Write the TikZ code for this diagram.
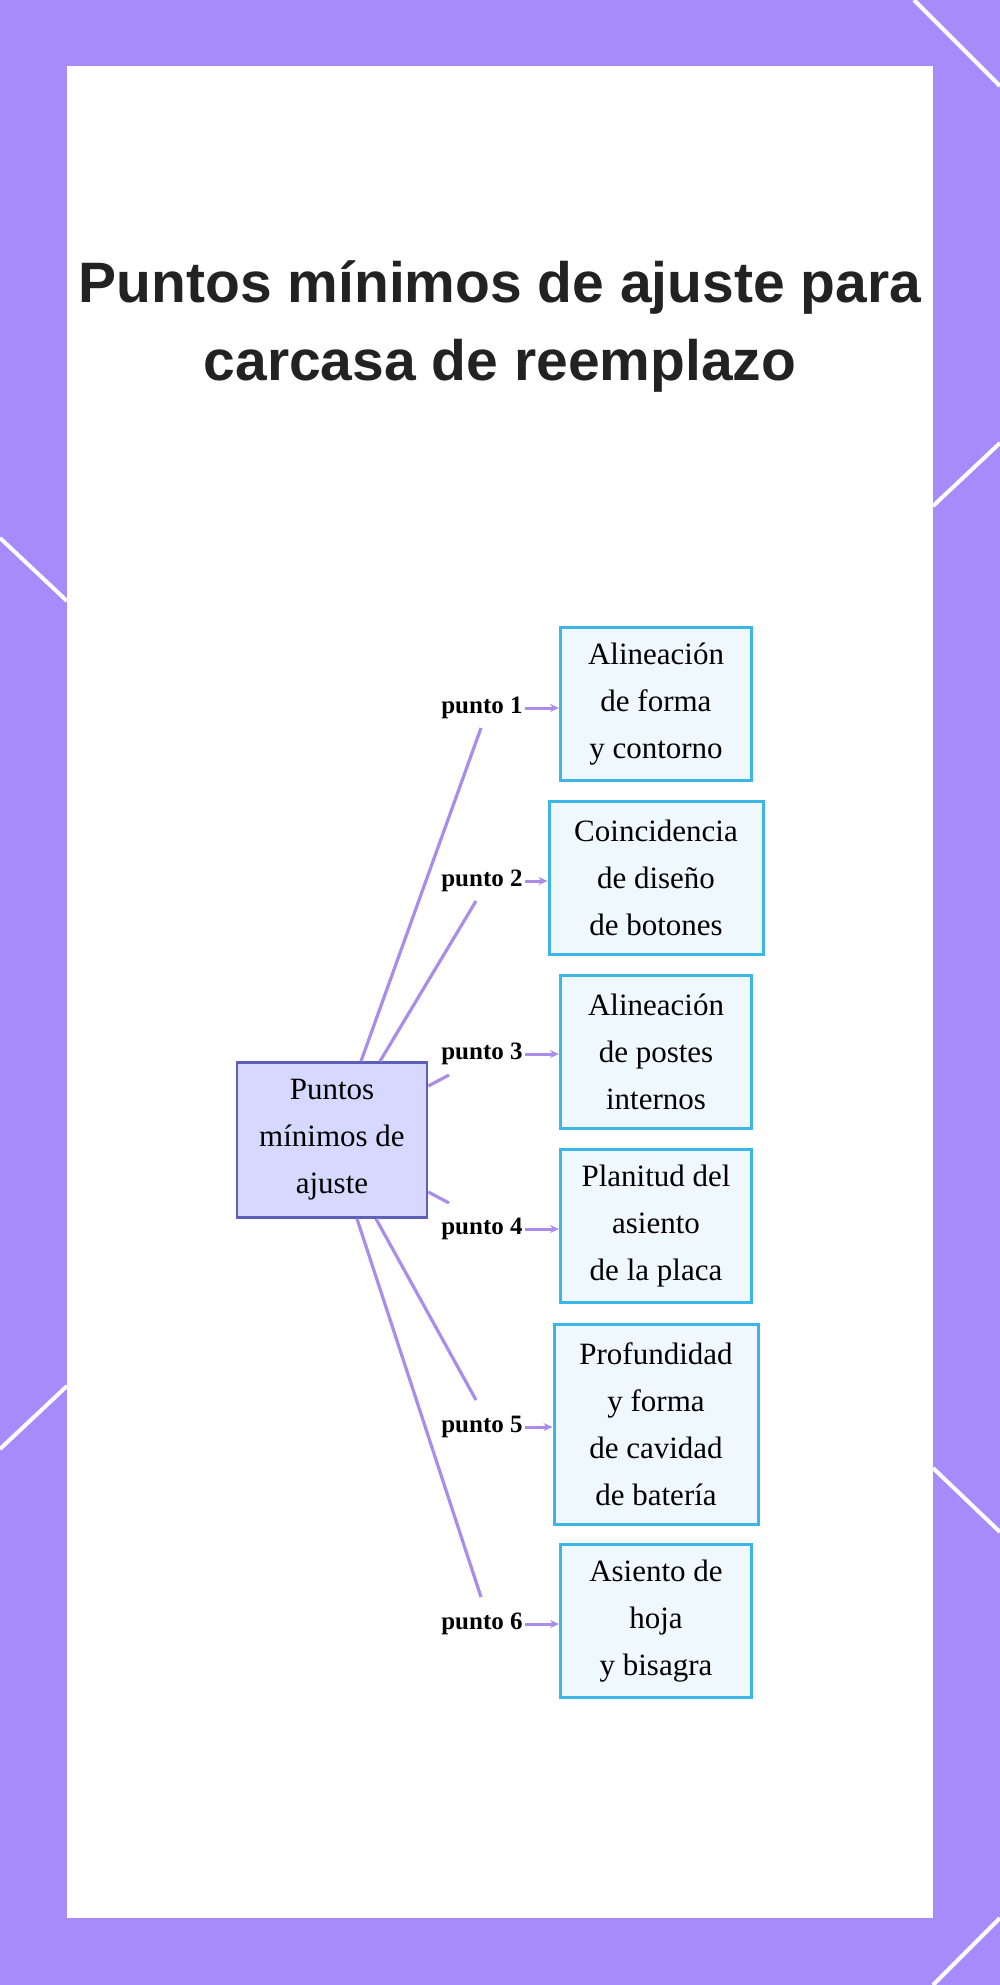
\documentclass[tikz,border=0pt]{standalone}
\usepackage{fontspec}
\setmainfont{Liberation Serif}
\newfontfamily\titlefont{Liberation Sans}
\usetikzlibrary{arrows.meta}
\definecolor{frame}{RGB}{167,139,250}
\definecolor{linec}{RGB}{170,140,235}
\definecolor{cfill}{RGB}{214,216,255}
\definecolor{cdraw}{RGB}{92,96,184}
\definecolor{bfill}{RGB}{238,248,253}
\definecolor{bdraw}{RGB}{60,182,230}
\definecolor{titlec}{RGB}{34,34,34}
\tikzset{
 px/.style={x=0.5pt,y=-0.5pt},
 item/.style={draw=bdraw,line width=1.5pt,fill=bfill,align=center,inner sep=0pt,font=\fontsize{15.5}{23.5}\selectfont},
 hub/.style={draw=cdraw,line width=1.3pt,fill=cfill,align=center,inner sep=0pt,minimum width=95pt,minimum height=77.5pt,font=\fontsize{15.5}{23.5}\selectfont},
 lab/.style={font=\fontsize{12.5}{14}\selectfont\bfseries,inner sep=1pt,anchor=east},
 link/.style={draw=linec,line width=1.6pt},
 arr/.style={draw=linec,line width=1.5pt,-{Stealth[length=4.5pt,width=4pt]}},
 corner/.style={draw=white,line width=2pt},
}
\begin{document}
\begin{tikzpicture}[px]
\useasboundingbox (0,0) rectangle (1000,1985);
\fill[frame] (0,0) rectangle (1000,1985);
\fill[white] (67,66) rectangle (933,1918);
\draw[corner] (914,0) -- (1000,86);
\draw[corner] (933,506) -- (1000,443);
\draw[corner] (0,538) -- (67,601);
\draw[corner] (0,1449) -- (67,1386);
\draw[corner] (933,1468) -- (1000,1532);
\draw[corner] (933,1985) -- (1000,1918);
\node[text=titlec,font=\titlefont\bfseries\fontsize{28.5}{39}\selectfont,align=center] (title) at (500,327) {Puntos mínimos de ajuste para\\carcasa de reemplazo};
\node[hub] (c) at (332,1140) {Puntos\\mínimos de\\ajuste};
\node[item,minimum width=95.5pt,minimum height=76.5pt] (b1) at (656,704) {Alineación\\de forma\\y contorno};
\node[item,minimum width=107pt,minimum height=76.5pt] (b2) at (656,878) {Coincidencia\\de diseño\\de botones};
\node[item,minimum width=95.5pt,minimum height=76.5pt] (b3) at (656,1052) {Alineación\\de postes\\internos};
\node[item,minimum width=95.5pt,minimum height=76.5pt] (b4) at (656,1226) {Planitud del\\asiento\\de la placa};
\node[item,minimum width=102pt,minimum height=100pt] (b5) at (656,1424) {Profundidad\\y forma\\de cavidad\\de batería};
\node[item,minimum width=95.5pt,minimum height=76.5pt] (b6) at (656,1621) {Asiento de\\hoja\\y bisagra};
\node[lab] (l1) at (525,708) {punto 1};
\node[lab] (l2) at (525,881) {punto 2};
\node[lab] (l3) at (525,1054) {punto 3};
\node[lab] (l4) at (525,1229) {punto 4};
\node[lab] (l5) at (525,1427) {punto 5};
\node[lab] (l6) at (525,1624) {punto 6};
\foreach \i in {1,...,6} {\draw[arr] (l\i.east) -- (l\i.east -| b\i.west);}
\coordinate (e1) at (481,728); \coordinate (e2) at (476,901);
\coordinate (e3) at (449,1075); \coordinate (e4) at (449,1203);
\coordinate (e5) at (476,1400); \coordinate (e6) at (481,1597);
\draw[link] ([xshift=14.5pt]c.north) -- (e1);
\draw[link] ([xshift=24pt]c.north) -- (e2);
\draw[link] ([yshift=27pt]c.east) -- (e3);
\draw[link] ([yshift=-26pt]c.east) -- (e4);
\draw[link] ([xshift=22pt]c.south) -- (e5);
\draw[link] ([xshift=12.5pt]c.south) -- (e6);
\end{tikzpicture}
\end{document}
